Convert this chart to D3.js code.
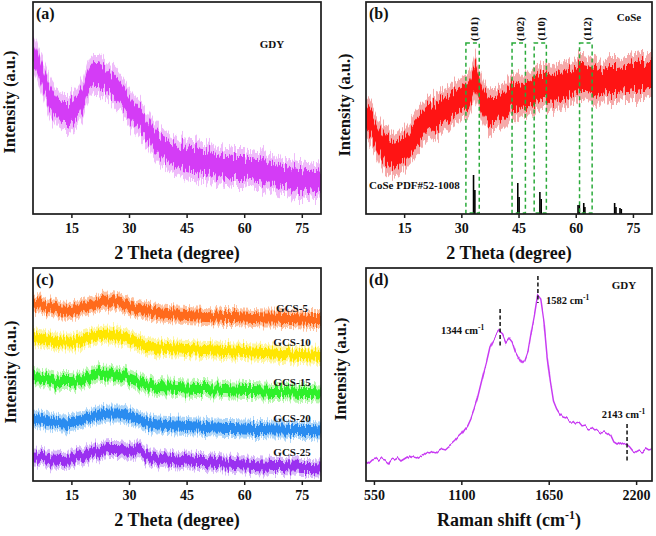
<!DOCTYPE html>
<html><head><meta charset="utf-8">
<script src="https://cdn.jsdelivr.net/npm/d3@7"></script>
<style>
body{margin:0;background:#fff}
svg{display:block}
text{font-family:"Liberation Serif","Times New Roman",serif;font-weight:bold;fill:#111}
</style></head><body>
<svg id="chart" width="656" height="536"></svg>
<script>
// ---------- DATA ----------
const xrdTicks = [15, 30, 45, 60, 75];
const ramanTicks = [550, 1100, 1650, 2200];

// (a) GDY XRD, band centre intensity (a.u.)
const thetaA = [5,6,7,8,9,10,11,12,13,14,15,16,17,18,19,20,21,22,23,24,25,26,27,28,29,30,31,32,33,34,35,36,37,38,39,40,41,42,43,44,45,46,47,48,49,50,51,52,53,54,55,56,57,58,59,60,61,62,63,64,65,66,67,68,69,70,71,72,73,74,75,76,77,78,79,80];
const gdyXRD = [164,154,142,131,121,113,107,103,101,101,103,106,110,117,130,138,139,139,137,134,131,128,124,119,114,108,102,97,93,89,84,77,72,68,65,63,61,59,57,56,55,54,54,53,52,52,51,50,49,48,47,47,46,46,46,46,45,45,44,44,43,42,41,39,38,37,37,36,35,34,34,33,33,32,32,31];

// (b) CoSe XRD
const thetaB = [5,6,7,8,9,10,11,12,13,14,15,16,17,18,19,20,21,22,23,24,25,26,27,28,29,30,31,32,33,33.6,34,35,36,37,38,39,40,41,42,43,44,45,46,47,48,49,50,51,52,53,54,55,56,57,58,59,60,61,62,63,64,65,66,67,68,69,70,71,72,73,74,75,76,77,78,79,80];
const coseXRD = [96,91,85,77,70,64,61,59,60,63,66,70,75,80,84,88,92,95,98,100,103,105,107,110,112,114,116,119,129,137,134,119,110,105,103,103,106,108,112,117,119,118,117,119,121,123,126,128,128,127,126,127,128,129,130,132,134,136,136,135,134,133,131,132,133,134,134,134,135,136,136,137,137,138,138,139,139];
const pdfTheta = [33.2,33.55,44.8,45.15,50.6,50.95,60.6,60.95,62.1,62.4,70.2,70.55,71.6,71.95];
const pdfIntensity = [39,24,31,17,22,15,9,9,11,7,11,7,6,5];
const planeLabels = ["(101)","(102)","(110)","(112)"];
const planeLo = [31.2,43.3,49.1,61.0];
const planeHi = [34.7,46.8,52.3,64.3];

// (c) GCS composites XRD (stacked)
const thetaC = [5,7.5,10,12.5,15,17.5,20,22.5,25,27.5,30,32.5,35,37.5,40,42.5,45,47.5,50,52.5,55,57.5,60,62.5,65,67.5,70,72.5,75,77.5,80];
const gcs5  = [177.5,176,173,170.5,170,173,177,179,179.5,177.5,175,172,169.5,168,167,166.5,166,165.5,165,164.5,164,164,163.5,163,162.5,162.5,162,162,161.5,161,161];
const gcs10 = [144,142.5,140,138.5,138.5,141,144,146,146.5,145,142,138.5,135,133.5,133,132.5,132,131.5,131,130.5,130,129.5,129,128.5,128,127.5,127,126.5,126,125.5,125];
const gcs15 = [104,103,101,99,99,101.5,105,107,107.5,106,103,99,95.5,94,93.5,93,92.5,92,92,91.5,91,90.5,90,90,89.5,89,89,88.5,88,88,87.5];
const gcs20 = [62.5,61,59,57.5,58,61,64,66.5,67.5,67.5,65,61.5,58,56.5,56,55.5,55,54.5,54,53.5,53,53,52.5,52,52,51.5,51.5,51,51,51,50.5];
const gcs25 = [23.5,23,21.5,21,21.5,24,27,30,31,31,29,31,25,22.5,21.5,20.5,21.5,19,19,18,17.5,17,16.5,16,15.5,15,15,14.5,14,14,13.5];
const gcsNames = ["GCS-5","GCS-10","GCS-15","GCS-20","GCS-25"];

// (d) GDY Raman
const ramanShift = [500,520,540,560,580,600,620,640,660,680,700,720,740,760,780,800,820,840,860,880,900,920,940,960,980,1000,1020,1040,1060,1080,1100,1120,1140,1160,1180,1200,1220,1240,1260,1280,1300,1320,1340,1360,1380,1400,1420,1440,1460,1480,1500,1520,1540,1560,1580,1600,1620,1640,1660,1680,1700,1720,1740,1760,1780,1800,1820,1840,1860,1880,1900,1920,1940,1960,1980,2000,2020,2040,2060,2080,2100,2120,2140,2160,2180,2200,2220,2240,2260,2280,2300];
const ramanGDY = [20,18,21,22,19,22,21,18,22,21,23,20,22,24,22,25,24,26,25,28,27,29,28,31,33,32,35,37,40,44,47,52,56,63,72,82,95,108,120,134,141,146,150,147,139,143,139,129,123,117,121,130,149,166,186,182,160,125,100,80,72,67,64,63,60,60,57,58,54,55,52,53,50,51,49,50,48,45,38,36,38,36,37,34,30,29,31,30,33,31,32];
const ramanPeaks = [1344, 1582, 2143];
const ramanPeakLabels = ["1344", "1582", "2143"];

// ---------- LAYOUT ----------
const svg = d3.select("#chart");
const P = {
  a: {l:33, r:321, t:2, b:214},
  b: {l:366, r:652, t:2, b:214},
  c: {l:33, r:321, t:268, b:481},
  d: {l:366, r:652, t:268, b:481}
};

const defs = svg.append("defs");
function noiseFilter(id, scale, freq){
  const f = defs.append("filter").attr("id",id).attr("x","-2%").attr("y","-30%").attr("width","104%").attr("height","160%")
    .attr("color-interpolation-filters","sRGB");
  f.append("feTurbulence").attr("type","fractalNoise").attr("baseFrequency",freq).attr("numOctaves",2).attr("seed",4).attr("result","t");
  f.append("feColorMatrix").attr("in","t").attr("type","matrix")
    .attr("values","0 0 0 0 0.5  0 1 0 0 0  0 0 0 0 0  0 0 0 0 1").attr("result","m");
  f.append("feDisplacementMap").attr("in","SourceGraphic").attr("in2","m").attr("scale",scale)
    .attr("xChannelSelector","R").attr("yChannelSelector","G");
}
noiseFilter("noise", 26, "0.55 0.012");
noiseFilter("noiseC", 14, "0.6 0.012");
noiseFilter("noiseD", 7, "0.2 0.01");

Object.entries(P).forEach(([k,p])=>{
  defs.append("clipPath").attr("id","clip-"+k).append("rect")
    .attr("x",p.l).attr("y",p.t).attr("width",p.r-p.l).attr("height",p.b-p.t);
});

function scales(p, xd, yd){
  return {x: d3.scaleLinear().domain(xd).range([p.l,p.r]),
          y: d3.scaleLinear().domain(yd).range([p.b,p.t])};
}

function band(g, xs, ys, s, w, color, op){
  const area = d3.area()
    .x((d,i)=>s.x(xs[i]))
    .y0(d=>s.y(d-w))
    .y1(d=>s.y(d+w));
  g.append("path").datum(ys).attr("d",area).attr("fill",color).attr("opacity",op);
}

function frame(p){
  svg.append("rect").attr("x",p.l).attr("y",p.t).attr("width",p.r-p.l).attr("height",p.b-p.t)
    .attr("fill","none").attr("stroke","#1b1b1b").attr("stroke-width",1.7);
}

function xAxis(p, s, ticks){
  const ax = d3.axisBottom(s.x).tickValues(ticks).tickSize(4).tickPadding(5).tickFormat(d3.format("d"));
  const g = svg.append("g").attr("transform",`translate(0,${p.b})`).call(ax);
  g.select(".domain").remove();
  g.selectAll("line").attr("stroke","#1b1b1b").attr("stroke-width",1.5);
  g.selectAll("text").attr("font-size",14).attr("font-family","Liberation Serif, serif").attr("font-weight","bold").attr("fill","#111");
}

function yTitle(x, y){
  svg.append("text").attr("transform",`translate(${x},${y}) rotate(-90)`).attr("text-anchor","middle")
    .attr("font-size",16.5).text("Intensity (a.u.)");
}
function xTitle(p, txt){
  svg.append("text").attr("x",(p.l+p.r)/2).attr("y",p.b+45).attr("text-anchor","middle")
    .attr("font-size",18).text(txt);
}
function tag(p, t){
  svg.append("text").attr("x",p.l+3).attr("y",p.t+17).attr("font-size",16).text(t);
}

// ---------- (a) ----------
{
  const p = P.a, s = scales(p,[5,80],[0,212]);
  const g = svg.append("g").attr("clip-path","url(#clip-a)").append("g").attr("filter","url(#noise)");
  band(g, thetaA, gdyXRD, s, 19, "#eaa6f8", 0.75);
  band(g, thetaA, gdyXRD, s, 11, "#d43cf6", 1);
  frame(p); xAxis(p, s, xrdTicks);
  yTitle(15, 102); xTitle(p, "2 Theta (degree)"); tag(p, "(a)");
  svg.append("text").attr("x",272).attr("y",48).attr("text-anchor","middle").attr("font-size",11).text("GDY");
}

// ---------- (b) ----------
{
  const p = P.b, s = scales(p,[5,80],[0,212]);
  const g = svg.append("g").attr("clip-path","url(#clip-b)");
  const gn = g.append("g").attr("filter","url(#noise)");
  band(gn, thetaB, coseXRD, s, 22, "#f28c8c", 0.75);
  band(gn, thetaB, coseXRD, s, 13, "#ff1414", 1);
  // reference sticks
  g.selectAll("line.pdf").data(pdfTheta).join("line")
    .attr("x1",d=>s.x(d)).attr("x2",d=>s.x(d))
    .attr("y1",s.y(0)).attr("y2",(d,i)=>s.y(pdfIntensity[i]))
    .attr("stroke","#000").attr("stroke-width",1.6);
  // dashed plane boxes
  planeLabels.forEach((lab,i)=>{
    g.append("rect").attr("x",s.x(planeLo[i])).attr("y",s.y(171))
      .attr("width",s.x(planeHi[i])-s.x(planeLo[i])).attr("height",s.y(1)-s.y(171))
      .attr("fill","none").attr("stroke","#2aaa3a").attr("stroke-width",1.5).attr("stroke-dasharray","4,3");
    const cx = (s.x(planeLo[i])+s.x(planeHi[i]))/2 + 1;
    svg.append("text").attr("transform",`translate(${cx+4},29) rotate(-90)`).attr("text-anchor","middle")
      .attr("font-size",11).text(lab);
  });
  frame(p); xAxis(p, s, xrdTicks);
  yTitle(350, 105); xTitle(p, "2 Theta (degree)"); tag(p, "(b)");
  svg.append("text").attr("x",629).attr("y",21).attr("text-anchor","middle").attr("font-size",11).text("CoSe");
  svg.append("text").attr("x",369).attr("y",189).attr("font-size",11).text("CoSe PDF#52-1008");
}

// ---------- (c) ----------
{
  const p = P.c, s = scales(p,[5,80],[0,213]);
  const g = svg.append("g").attr("clip-path","url(#clip-c)").append("g").attr("filter","url(#noiseC)");
  const series = [gcs5, gcs10, gcs15, gcs20, gcs25];
  const core = ["#ff6a1c","#ffe600","#2ef02a","#2a8cf0","#9a30f0"];
  const light = ["#ffa878","#fff27a","#9cf590","#8cc4f6","#c89cf6"];
  series.forEach((ys,i)=>{
    band(g, thetaC, ys, s, 9, light[i], 0.7);
    band(g, thetaC, ys, s, 5, core[i], 1);
  });
  const labelY = [312, 345.5, 385.5, 421.5, 456];
  gcsNames.forEach((n,i)=>{
    svg.append("text").attr("x",292).attr("y",labelY[i]).attr("text-anchor","middle").attr("font-size",11).text(n);
  });
  frame(p); xAxis(p, s, xrdTicks);
  yTitle(16, 372); xTitle(p, "2 Theta (degree)"); tag(p, "(c)");
}

// ---------- (d) ----------
{
  const p = P.d, s = scales(p,[500,2300],[0,213]);
  const g = svg.append("g").attr("clip-path","url(#clip-d)");
  const line = d3.line().x((d,i)=>s.x(ramanShift[i])).y(d=>s.y(d));
  g.append("g").attr("filter","url(#noiseD)").append("path").datum(ramanGDY).attr("d",line).attr("fill","none")
    .attr("stroke","#c83cf2").attr("stroke-width",1.5);
  const markTop = [172, 205, 57], markBot = [135, 178, 18];
  ramanPeaks.forEach((v,i)=>{
    g.append("line").attr("x1",s.x(v)).attr("x2",s.x(v)).attr("y1",s.y(markTop[i])).attr("y2",s.y(markBot[i]))
      .attr("stroke","#111").attr("stroke-width",1.5).attr("stroke-dasharray","4,2.5");
  });
  const lab = [[462.7,333.5,"middle"],[546,304,"start"],[623.5,418,"middle"]];
  ramanPeakLabels.forEach((t,i)=>{
    const tx = svg.append("text").attr("x",lab[i][0]).attr("y",lab[i][1]).attr("text-anchor",lab[i][2]).attr("font-size",10.5);
    tx.append("tspan").text(t+" cm");
    tx.append("tspan").attr("dy",-4).attr("font-size",7.5).text("-1");
  });
  frame(p); xAxis(p, s, ramanTicks);
  yTitle(346, 369); tag(p, "(d)");
  const xt = svg.append("text").attr("x",(p.l+p.r)/2).attr("y",p.b+45).attr("text-anchor","middle").attr("font-size",18);
  xt.append("tspan").text("Raman shift (cm");
  xt.append("tspan").attr("dy",-7).attr("font-size",12).text("-1");
  xt.append("tspan").attr("dy",7).text(")");
  svg.append("text").attr("x",624).attr("y",288.5).attr("text-anchor","middle").attr("font-size",11).text("GDY");
}
</script>
</body></html>
